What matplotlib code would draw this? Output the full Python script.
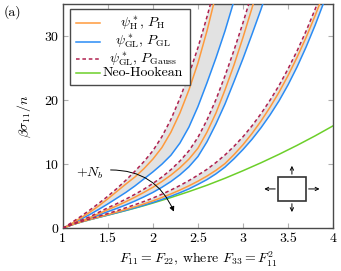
import numpy as np
import matplotlib
matplotlib.use("Agg")
import matplotlib.pyplot as plt
from matplotlib.patches import Rectangle
from matplotlib.lines import Line2D

plt.rcParams['font.family'] = ['cmr10', 'DejaVu Serif']
plt.rcParams['mathtext.fontset'] = 'cm'
plt.rcParams['axes.formatter.use_mathtext'] = True
plt.rcParams['lines.scale_dashes'] = False

# ---------------- data ----------------
# group 1 (smallest N_b)
g1_dash_F = [1.0, 1.1, 1.2, 1.3, 1.4, 1.5, 1.6, 1.7, 1.8, 1.9, 2.0, 2.1, 2.2, 2.3, 2.4, 2.5, 2.6, 2.65]
g1_dash_s = [0.0, 0.9, 1.85, 2.85, 3.9, 5.0, 6.2, 7.5, 8.9, 10.4, 12.1, 14.3, 17.0, 20.3, 24.0, 28.2, 33.0, 35.6]
g1_or_F = [1.0, 1.1, 1.2, 1.3, 1.4, 1.5, 1.6, 1.7, 1.8, 1.9, 2.0, 2.1, 2.2, 2.3, 2.4, 2.5, 2.6, 2.7]
g1_or_s = [0.0, 0.75, 1.6, 2.5, 3.5, 4.6, 5.75, 6.9, 8.0, 9.3, 10.8, 12.6, 15.0, 18.0, 21.6, 25.8, 30.8, 36.5]
g1_bl_F = [1.0, 1.1, 1.2, 1.3, 1.4, 1.5, 1.6, 1.7, 1.8, 1.9, 2.0, 2.1, 2.2, 2.3, 2.4, 2.5, 2.6, 2.7, 2.8, 2.9]
g1_bl_s = [0.0, 0.65, 1.4, 2.15, 2.95, 3.8, 4.7, 5.6, 6.6, 7.7, 8.8, 10.0, 11.4, 13.3, 15.8, 19.0, 22.7, 26.6, 30.8, 35.5]
# group 2
g2_dash_F = [1.0, 1.1, 1.2, 1.3, 1.4, 1.5, 1.6, 1.7, 1.8, 1.9, 2.0, 2.1, 2.2, 2.3, 2.4, 2.5, 2.6, 2.7, 2.8, 2.9, 3.0, 3.05, 3.1]
g2_dash_s = [0.0, 0.62, 1.22, 1.8, 2.5, 3.2, 3.85, 4.55, 5.3, 6.1, 7.0, 8.0, 9.15, 10.5, 12.1, 14.2, 16.9, 20.1, 23.8, 27.8, 32.1, 34.4, 36.8]
g2_or_F = [1.0, 1.1, 1.2, 1.3, 1.4, 1.5, 1.6, 1.7, 1.8, 1.9, 2.0, 2.1, 2.2, 2.3, 2.4, 2.5, 2.6, 2.7, 2.8, 2.9, 3.0, 3.1, 3.15]
g2_or_s = [0.0, 0.58, 1.12, 1.67, 2.28, 2.9, 3.5, 4.15, 4.85, 5.6, 6.4, 7.3, 8.3, 9.45, 10.8, 12.5, 15.0, 18.0, 21.6, 25.5, 29.8, 34.4, 36.8]
g2_bl_F = [1.0, 1.1, 1.2, 1.3, 1.4, 1.5, 1.6, 1.7, 1.8, 1.9, 2.0, 2.1, 2.2, 2.3, 2.4, 2.5, 2.6, 2.7, 2.8, 2.9, 3.0, 3.1, 3.2, 3.25]
g2_bl_s = [0.0, 0.55, 1.04, 1.54, 2.06, 2.6, 3.1, 3.65, 4.25, 4.9, 5.6, 6.4, 7.3, 8.35, 9.6, 11.2, 13.5, 16.3, 19.4, 22.9, 26.5, 30.3, 34.2, 36.3]
# group 3 (largest N_b)
g3_dash_F = [1.0, 1.1, 1.2, 1.3, 1.4, 1.5, 1.6, 1.7, 1.8, 1.9, 2.0, 2.1, 2.2, 2.3, 2.4, 2.5, 2.6, 2.7, 2.8, 2.9, 3.0, 3.1, 3.2, 3.3, 3.4, 3.5, 3.6, 3.7, 3.8, 3.85]
g3_dash_s = [0.0, 0.57, 1.03, 1.46, 1.88, 2.3, 2.74, 3.2, 3.68, 4.18, 4.72, 5.32, 5.97, 6.68, 7.45, 8.3, 9.2, 10.27, 11.45, 12.8, 14.3, 16.0, 17.9, 20.0, 22.3, 24.9, 27.7, 30.8, 34.2, 36.0]
g3_or_F = [1.0, 1.1, 1.2, 1.3, 1.4, 1.5, 1.6, 1.7, 1.8, 1.9, 2.0, 2.1, 2.2, 2.3, 2.4, 2.5, 2.6, 2.7, 2.8, 2.9, 3.0, 3.1, 3.2, 3.3, 3.4, 3.5, 3.6, 3.7, 3.8, 3.85, 3.9]
g3_or_s = [0.0, 0.54, 0.98, 1.38, 1.76, 2.14, 2.53, 2.93, 3.35, 3.8, 4.28, 4.8, 5.36, 5.97, 6.63, 7.35, 8.15, 9.05, 10.1, 11.5, 13.05, 14.8, 16.75, 18.9, 21.25, 23.85, 26.7, 29.8, 33.2, 35.0, 36.9]
g3_bl_F = [1.0, 1.1, 1.2, 1.3, 1.4, 1.5, 1.6, 1.7, 1.8, 1.9, 2.0, 2.1, 2.2, 2.3, 2.4, 2.5, 2.6, 2.7, 2.8, 2.9, 3.0, 3.1, 3.2, 3.3, 3.4, 3.5, 3.6, 3.7, 3.8, 3.9, 3.95]
g3_bl_s = [0.0, 0.53, 0.96, 1.35, 1.71, 2.07, 2.43, 2.8, 3.19, 3.6, 4.03, 4.5, 5.0, 5.55, 6.15, 6.85, 7.6, 8.5, 9.55, 10.85, 12.3, 13.9, 15.7, 17.7, 19.9, 22.4, 25.2, 28.3, 31.7, 35.4, 37.3]
# neo-Hookean
nh_F = [1.0, 1.1, 1.2, 1.3, 1.4, 1.5, 1.6, 1.7, 1.8, 1.9, 2.0, 2.2, 2.4, 2.6, 2.8, 3.0, 3.2, 3.4, 3.6, 3.8, 4.0]
nh_s = [0.0, 0.53, 0.96, 1.34, 1.70, 2.05, 2.41, 2.77, 3.14, 3.53, 3.94, 4.80, 5.73, 6.72, 7.81, 8.99, 10.23, 11.55, 12.95, 14.43, 16.0]

x_ticks = [1, 1.5, 2, 2.5, 3, 3.5, 4]
x_ticklabels = ['1', '1.5', '2', '2.5', '3', '3.5', '4']
y_ticks = [0, 10, 20, 30]
y_ticklabels = ['0', '10', '20', '30']
legend_labels = [r'$\psi^*_{\mathrm{H}},\,P_{\mathrm{H}}$',
                 r'$\psi^*_{\mathrm{GL}},\,P_{\mathrm{GL}}$',
                 r'$\psi^*_{\mathrm{GL}},\,P_{\mathrm{Gauss}}$',
                 'Neo-Hookean']

# ---------------- styling ----------------
c_or = '#FF9A3C'
c_bl = '#2A8CF5'
c_da = '#B0204E'
c_gr = '#6CCF2A'
c_fill = '#E2E2E2'
lw = 1.1

fig = plt.figure(figsize=(3.41, 2.71), dpi=100)
ax = fig.add_axes([0.184, 0.1576, 0.793, 0.8274])

groups = [(g1_dash_F, g1_dash_s, g1_or_F, g1_or_s, g1_bl_F, g1_bl_s),
          (g2_dash_F, g2_dash_s, g2_or_F, g2_or_s, g2_bl_F, g2_bl_s),
          (g3_dash_F, g3_dash_s, g3_or_F, g3_or_s, g3_bl_F, g3_bl_s)]

for dF, ds, oF, os_, bF, bs in groups:
    px = np.concatenate([dF, bF[::-1]])
    py = np.concatenate([ds, bs[::-1]])
    ax.fill(px, py, color=c_fill, lw=0, zorder=1)

ax.plot(nh_F, nh_s, color=c_gr, lw=lw, zorder=2)
for dF, ds, oF, os_, bF, bs in groups:
    ax.plot(bF, bs, color=c_bl, lw=lw, zorder=3)
    ax.plot(oF, os_, color=c_or, lw=lw, zorder=3)
    ax.plot(dF, ds, color=c_da, lw=lw, dashes=(2.6, 2.0), zorder=4)

ax.set_xlim(1, 4)
ax.set_ylim(0, 35)
ax.set_xticks(x_ticks)
ax.set_xticklabels(x_ticklabels)
ax.set_yticks(y_ticks)
ax.set_yticklabels(y_ticklabels)
ax.tick_params(direction='in', length=3.5, width=0.8, color='#b0b0b0',
               top=True, right=True, labelsize=10, pad=3)
for sp in ax.spines.values():
    sp.set_color('#4a4a4a')
    sp.set_linewidth(1.0)

ax.set_xlabel(r'$F_{11}=F_{22}$, where $F_{33}=F_{11}^{2}$', fontsize=10, labelpad=4)
ax.set_ylabel(r'$\beta\sigma_{11}/n$', fontsize=10, labelpad=8)

# legend drawn manually
lx0, lx1, ly0, ly1 = 0.027, 0.470, 0.639, 0.978
ax.add_patch(Rectangle((lx0, ly0), lx1 - lx0, ly1 - ly0, transform=ax.transAxes,
                       facecolor='white', edgecolor='#4a4a4a', lw=1.0, zorder=10))
rows_y = [0.917, 0.833, 0.755, 0.691]
styles = [dict(color=c_or), dict(color=c_bl), dict(color=c_da, dashes=(2.6, 2.0)), dict(color=c_gr)]
for yy, lab, st in zip(rows_y, legend_labels, styles):
    ax.add_line(Line2D([0.050, 0.136], [yy, yy], transform=ax.transAxes, lw=lw, zorder=11, **st))
    ax.text(0.297, yy, lab, transform=ax.transAxes, ha='center', va='center',
            fontsize=10, zorder=11)

# N_b annotation
ax.text(1.30, 8.6, r'$+N_b$', fontsize=10, ha='center', va='center')
ax.annotate('', xy=(2.245, 2.2), xytext=(1.50, 9.1),
            arrowprops=dict(arrowstyle='-|>', color='black', lw=0.7,
                            connectionstyle='arc3,rad=-0.35', mutation_scale=7))

# inset: biaxial loading sketch
ax.add_patch(Rectangle((0.796, 0.122), 0.103, 0.107, transform=ax.transAxes,
                       facecolor='white', edgecolor='#333333', lw=1.2, zorder=6))
arrow_kw = dict(arrowstyle='->', color='black', lw=0.7, mutation_scale=6)
ax.annotate('', xy=(0.8475, 0.291), xytext=(0.8475, 0.229), xycoords='axes fraction', arrowprops=arrow_kw)
ax.annotate('', xy=(0.8475, 0.060), xytext=(0.8475, 0.122), xycoords='axes fraction', arrowprops=arrow_kw)
ax.annotate('', xy=(0.735, 0.1755), xytext=(0.796, 0.1755), xycoords='axes fraction', arrowprops=arrow_kw)
ax.annotate('', xy=(0.960, 0.1755), xytext=(0.899, 0.1755), xycoords='axes fraction', arrowprops=arrow_kw)

fig.text(0.012, 0.955, '(a)', fontsize=10, ha='left', va='center')

fig.savefig('out.png', dpi=100)
